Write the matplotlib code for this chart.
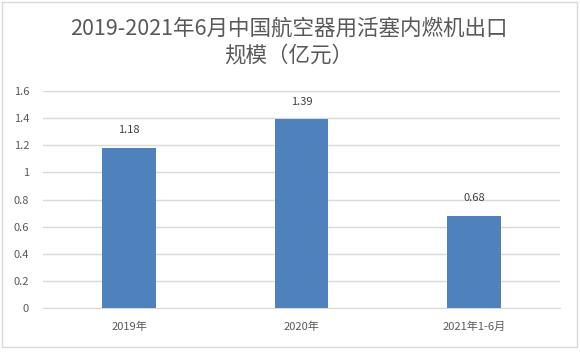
import matplotlib
matplotlib.use("Agg")
import matplotlib.pyplot as plt
from matplotlib.patches import Rectangle

plt.rcParams['font.family'] = ['Noto Sans CJK SC', 'DejaVu Sans']

categories = ["2019年", "2020年", "2021年1-6月"]
values = [1.18, 1.39, 0.68]
yticks = [0, 0.2, 0.4, 0.6, 0.8, 1, 1.2, 1.4, 1.6]
ytick_labels = ["0", "0.2", "0.4", "0.6", "0.8", "1", "1.2", "1.4", "1.6"]
title_lines = ["2019-2021年6月中国航空器用活塞内燃机出口", "规模（亿元）"]

W, H = 580, 353
fig = plt.figure(figsize=(W / 100, H / 100), dpi=100)
fig.patch.set_facecolor("white")

# chart border
fig.patches.append(Rectangle((2 / W, 1 - 347 / H), 575 / W, 345 / H,
                             transform=fig.transFigure, fill=False,
                             edgecolor="#D9D9D9", linewidth=1))

ax = fig.add_axes([43 / W, 1 - 308 / H, 517 / W, 217 / H])
x = range(len(categories))
bars = ax.bar(x, values, width=0.31, color="#4F81BD", zorder=3)
ax.set_xlim(-0.5, len(categories) - 0.5)
ax.set_ylim(0, 1.6)
ax.set_yticks(yticks)
ax.set_yticklabels(ytick_labels)
ax.set_xticks(list(x))
ax.set_xticklabels(categories)
ax.grid(axis="y", color="#D9D9D9", linewidth=1, zorder=0)
for s in ax.spines.values():
    s.set_visible(False)
ax.spines["bottom"].set_visible(True)
ax.spines["bottom"].set_color("#D9D9D9")
ax.tick_params(axis="both", length=0, labelsize=8, colors="#595959")
ax.tick_params(axis="x", pad=10)
ax.tick_params(axis="y", pad=10)

for i, v in enumerate(values):
    ax.annotate(f"{v:.2f}", (i, v), xytext=(0, 9), textcoords="offset points",
                ha="center", va="bottom", fontsize=8, color="#404040")

fig.text(289 / W, 1 - 29 / H, title_lines[0], ha="center", va="center",
         fontsize=15.5, color="#595959")
fig.text(289 / W, 1 - 56 / H, title_lines[1], ha="center", va="center",
         fontsize=15.5, color="#595959")

fig.savefig("out.png", dpi=100)
